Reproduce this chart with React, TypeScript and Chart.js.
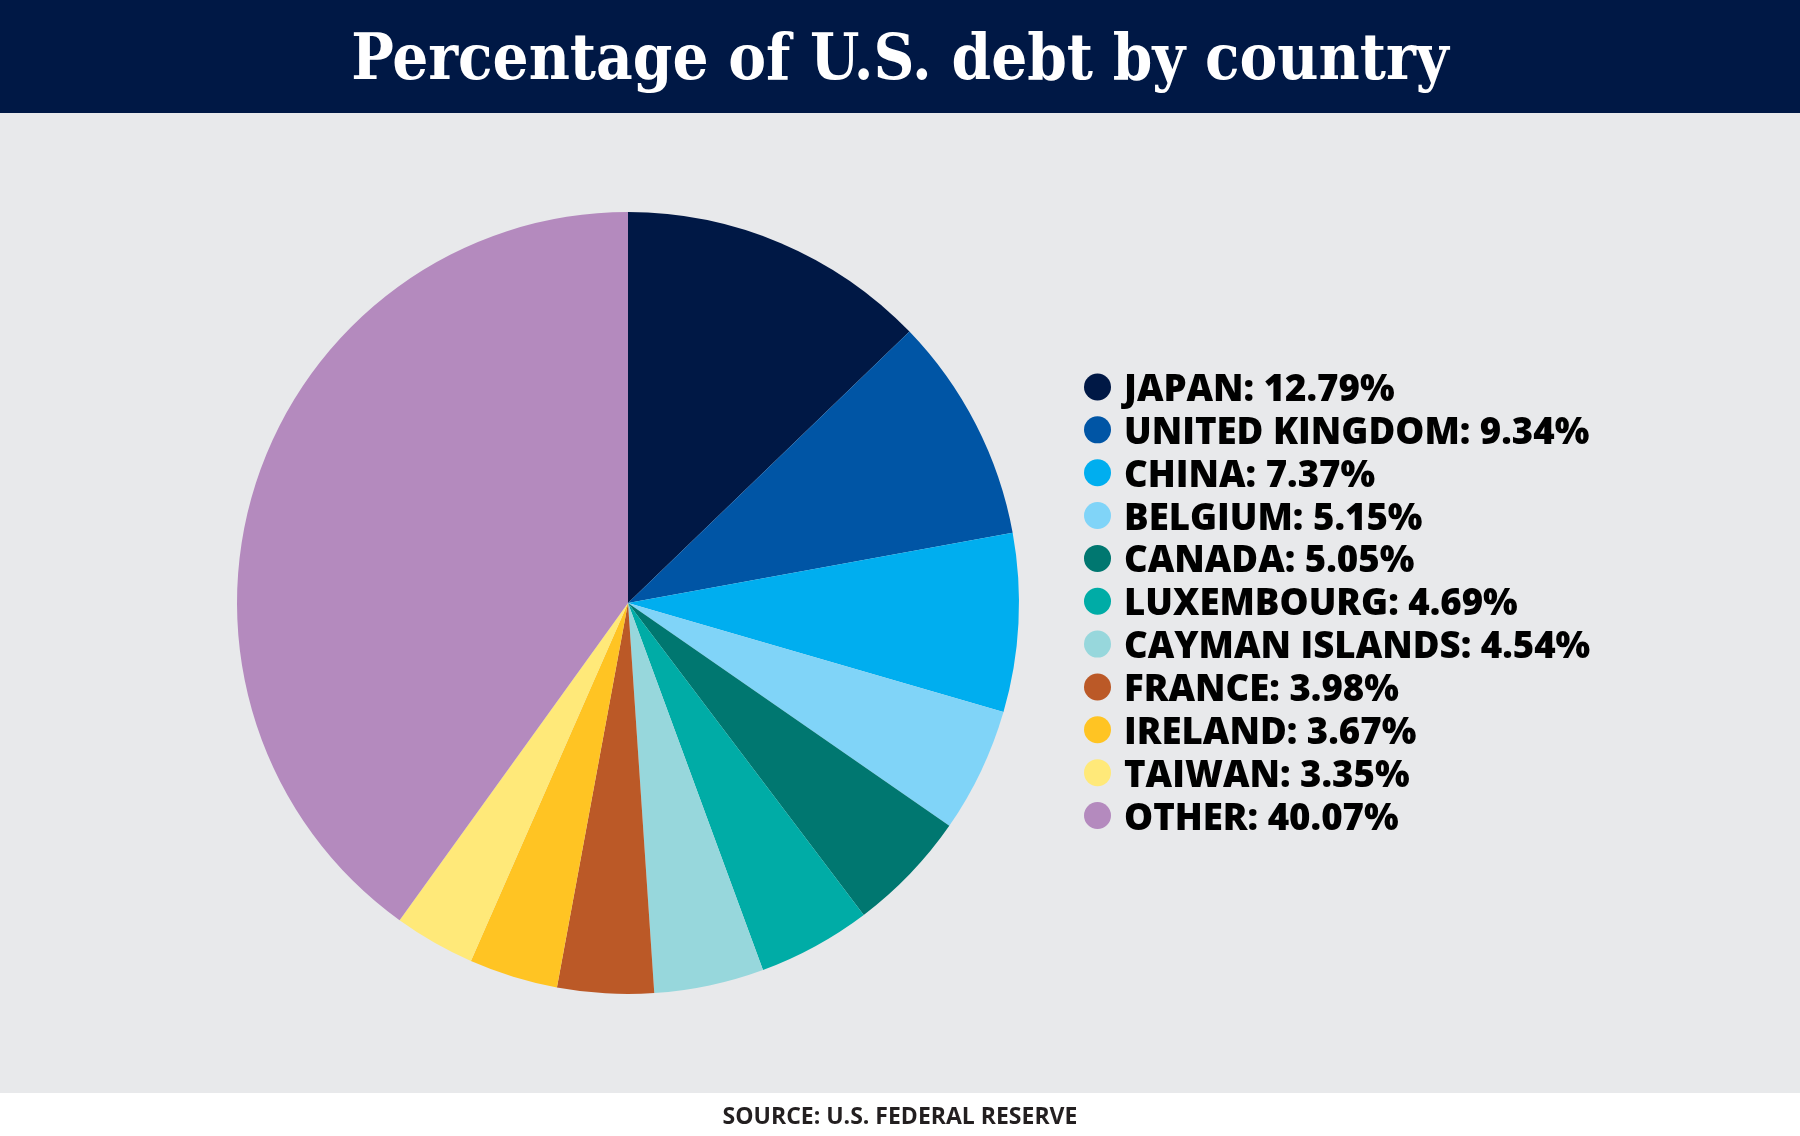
import React, { useEffect, useRef } from 'react';
import { Chart, registerables, Plugin } from 'chart.js';

Chart.register(...registerables);

const countries = ['JAPAN', 'UNITED KINGDOM', 'CHINA', 'BELGIUM', 'CANADA', 'LUXEMBOURG', 'CAYMAN ISLANDS', 'FRANCE', 'IRELAND', 'TAIWAN', 'OTHER'];
const shares = [12.79, 9.34, 7.37, 5.15, 5.05, 4.69, 4.54, 3.98, 3.67, 3.35, 40.07];
const sliceColors = ['#001845', '#0055a5', '#00aeef', '#80d4f8', '#007770', '#00aca6', '#97d7dc', '#bb5927', '#ffc423', '#ffe979', '#b48abe'];

const titleText = 'Percentage of U.S. debt by country';
const sourceText = 'SOURCE: U.S. FEDERAL RESERVE';

// backgrounds, header, legend and source line
const decorPlugin: Plugin<'pie'> = {
    id: 'decor',
    beforeDraw(chart) {
        const { ctx, width, height } = chart;
        ctx.save();
        ctx.fillStyle = '#ffffff';
        ctx.fillRect(0, 0, width, height);
        ctx.fillStyle = '#e8e9eb';
        ctx.fillRect(0, 113, width, 980);
        ctx.fillStyle = '#001845';
        ctx.fillRect(0, 0, width, 113);
        ctx.restore();
    },
    afterDraw(chart) {
        const { ctx } = chart;
        ctx.save();
        ctx.fillStyle = '#ffffff';
        ctx.textAlign = 'center';
        ctx.textBaseline = 'alphabetic';
        ctx.font = 'bold 63px "DejaVu Serif"';
        (ctx as any).fontStretch = 'condensed';
        ctx.fillText(titleText, 900, 79);
        (ctx as any).fontStretch = 'normal';

        const labels = chart.data.labels as string[];
        const values = chart.data.datasets[0].data as number[];
        const colors = chart.data.datasets[0].backgroundColor as string[];
        ctx.textAlign = 'left';
        ctx.font = '800 36.6px "Open Sans"';
        labels.forEach((label, i) => {
            const y = 387 + i * 42.85;
            ctx.fillStyle = colors[i];
            ctx.beginPath();
            ctx.arc(1097.5, y, 13.5, 0, Math.PI * 2);
            ctx.fill();
            ctx.fillStyle = '#000000';
            ctx.fillText(`${label}: ${values[i].toFixed(2)}%`, 1124, y + 14);
        });

        ctx.textAlign = 'center';
        ctx.fillStyle = '#231f20';
        ctx.font = 'bold 23px "Open Sans"';
        ctx.fillText(sourceText, 900, 1124);
        ctx.restore();
    },
};

const App: React.FC = () => {
    const canvasRef = useRef<HTMLCanvasElement | null>(null);

    useEffect(() => {
        document.body.style.margin = '0';
        if (!canvasRef.current) return;
        const chart = new Chart(canvasRef.current, {
            type: 'pie',
            data: {
                labels: countries,
                datasets: [{
                    data: shares,
                    backgroundColor: sliceColors,
                    borderWidth: 0,
                }],
            },
            options: {
                animation: false,
                responsive: false,
                devicePixelRatio: 1,
                layout: { padding: { left: 237, right: 781, top: 212, bottom: 142 } },
                plugins: {
                    legend: { display: false },
                    tooltip: { enabled: false },
                },
            },
            plugins: [decorPlugin],
        });
        return () => chart.destroy();
    }, []);

    return <canvas ref={canvasRef} width={1800} height={1136} style={{ display: 'block' }} />;
};

export default App;
